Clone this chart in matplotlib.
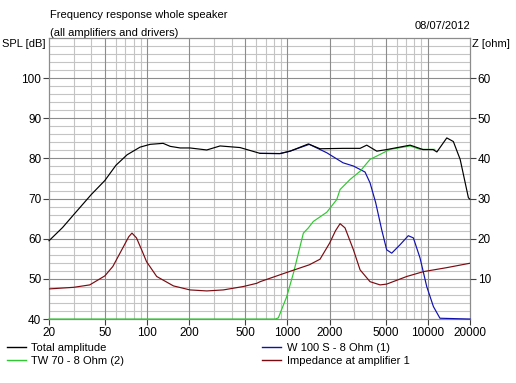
import matplotlib
matplotlib.use("Agg")
import matplotlib.pyplot as plt
from matplotlib.lines import Line2D
from matplotlib.ticker import FixedLocator, NullFormatter

plt.rcParams['font.family'] = ['Liberation Sans', 'DejaVu Sans']
plt.rcParams['font.size'] = 8

# ---------------------------------------------------------------- #
#                              DATA                                #
# ---------------------------------------------------------------- #
total_f = [20, 25, 30, 40, 50, 60, 72, 89, 105, 130, 146, 172, 202, 266, 331,
           459, 638, 885, 1043, 1409, 1706, 2490, 3290, 3670, 4330, 5090, 7480,
           9250, 10900, 11600, 13650, 15200, 17000, 19460, 20000]
total_db = [59.5, 62.8, 66.0, 71.0, 74.5, 78.3, 80.9, 82.8, 83.5, 83.75, 83.0,
            82.6, 82.6, 82.1, 83.1, 82.7, 81.25, 81.2, 81.8, 83.6, 82.4, 82.5,
            82.5, 83.3, 81.8, 82.2, 83.3, 82.2, 82.2, 81.6, 85.1, 84.2, 79.75,
            70.2, 69.8]

woofer_f = [638, 885, 1043, 1430, 1906, 2490, 2950, 3570, 3876, 4250, 4690, 5090,
            5530, 6340, 7260, 7890, 8800, 9820, 10960, 12200, 20000]
woofer_db = [81.25, 81.2, 81.8, 83.5, 81.4, 78.9, 78.1, 76.6, 73.9, 69.0, 62.25,
             57.25, 56.4, 58.5, 60.75, 60.2, 55.2, 48.1, 43.1, 40.2, 40.0]

tweeter_f = [20, 820, 861, 988, 1102, 1298, 1409, 1528, 1906, 2244, 2370, 2792,
             3290, 3876, 4570, 5380, 7480, 8800, 11200]
tweeter_db = [40.0, 40.0, 40.3, 45.6, 51.4, 61.4, 62.7, 64.3, 66.6, 69.75, 72.25,
              74.75, 76.8, 79.75, 81.0, 82.25, 83.1, 82.25, 82.25]

imp_f = [20, 30, 39, 50, 57, 68, 74, 78, 84, 92, 99, 117, 154, 202, 266, 349,
         485, 604, 638, 988, 1430, 1706, 1996, 2200, 2370, 2570, 2950, 3290,
         3876, 4570, 5090, 7080, 9290, 13650, 20000]
imp_z = [7.5, 7.9, 8.5, 10.75, 13.1, 18.1, 20.5, 21.4, 20.2, 17.0, 14.3, 10.6,
         8.25, 7.25, 7.0, 7.25, 8.1, 8.9, 9.3, 11.6, 13.5, 14.9, 18.9, 22.0,
         23.75, 22.7, 17.25, 12.25, 9.3, 8.5, 8.7, 10.6, 11.8, 12.8, 13.9]

freq_ticks = [20, 50, 100, 200, 500, 1000, 2000, 5000, 10000, 20000]
freq_minor = [30, 40, 60, 70, 80, 90, 300, 400, 600, 700, 800, 900,
              3000, 4000, 6000, 7000, 8000, 9000]
spl_ticks = [40, 50, 60, 70, 80, 90, 100]
z_ticks = [10, 20, 30, 40, 50, 60]

BLACK = '#000000'
BLUE = '#1010b0'
GREEN = '#30c830'
RED = '#7a0a10'
MAJOR_GRID = '#8c8c8c'
MINOR_GRID = '#c4c4c4'
LW = 0.85

# ---------------------------------------------------------------- #
#                              PLOT                                #
# ---------------------------------------------------------------- #
fig = plt.figure(figsize=(5.16, 3.83), dpi=100)
ax = fig.add_axes([0.095, 0.167, 0.816, 0.734])
ax.set_xscale('log')
ax.set_xlim(20, 20000)
ax.set_ylim(40, 110)

# grid
for f in freq_minor:
    ax.axvline(f, color=MINOR_GRID, lw=0.8, zorder=0)
for f in freq_ticks[1:-1]:
    ax.axvline(f, color=MAJOR_GRID, lw=0.8, zorder=0.5)
for s in range(42, 110, 2):
    ax.axhline(s, color=MAJOR_GRID if s % 10 == 0 else MINOR_GRID, lw=0.8,
               zorder=0.5 if s % 10 == 0 else 0)

ax.xaxis.set_major_locator(FixedLocator(freq_ticks))
ax.set_xticklabels([str(f) for f in freq_ticks])
ax.xaxis.set_minor_locator(FixedLocator([]))
ax.xaxis.set_minor_formatter(NullFormatter())
ax.set_yticks(spl_ticks)
ax.tick_params(axis='both', direction='out', length=4, width=0.8,
               color='#404040', pad=1.5, labelsize=8.5)

for sp in ax.spines.values():
    sp.set_color(MAJOR_GRID)
    sp.set_linewidth(0.9)

ax.plot(woofer_f, woofer_db, color=BLUE, lw=LW, clip_on=False, zorder=3)
ax.plot(tweeter_f, tweeter_db, color=GREEN, lw=LW, clip_on=False, zorder=3)
ax.plot(total_f, total_db, color=BLACK, lw=LW, clip_on=False, zorder=4)

az = ax.twinx()
az.set_ylim(0, 70)
az.set_yticks(z_ticks)
az.xaxis.set_minor_locator(FixedLocator([]))
az.tick_params(axis='y', direction='out', length=4, width=0.8,
               color='#404040', pad=1.5, labelsize=8.5)
for sp in az.spines.values():
    sp.set_visible(False)
az.plot(imp_f, imp_z, color=RED, lw=LW, zorder=3)

# texts
fig.text(0.097, 0.962, 'Frequency response whole speaker', va='center', ha='left')
fig.text(0.097, 0.913, '(all amplifiers and drivers)', va='center', ha='left')
fig.text(0.004, 0.885, 'SPL [dB]', va='center', ha='left')
fig.text(0.911, 0.932, '08/07/2012', va='center', ha='right')
fig.text(0.915, 0.885, 'Z [ohm]', va='center', ha='left')

# legends
h_total = Line2D([], [], color=BLACK, lw=1.0)
h_tw = Line2D([], [], color=GREEN, lw=1.0)
h_w = Line2D([], [], color=BLUE, lw=1.0)
h_imp = Line2D([], [], color=RED, lw=1.0)

leg_kw = dict(frameon=False, fontsize=8, handlelength=1.7, handletextpad=0.5,
              labelspacing=0.3, borderpad=0, borderaxespad=0)
fig.legend([h_total, h_tw], ['Total amplitude', 'TW 70 - 8 Ohm (2)'],
           loc='upper left', bbox_to_anchor=(0.013, 0.105), **leg_kw)
fig.legend([h_w, h_imp], ['W 100 S - 8 Ohm (1)', 'Impedance at amplifier 1'],
           loc='upper left', bbox_to_anchor=(0.508, 0.105), **leg_kw)

fig.savefig('out.png', dpi=100, facecolor='white')
